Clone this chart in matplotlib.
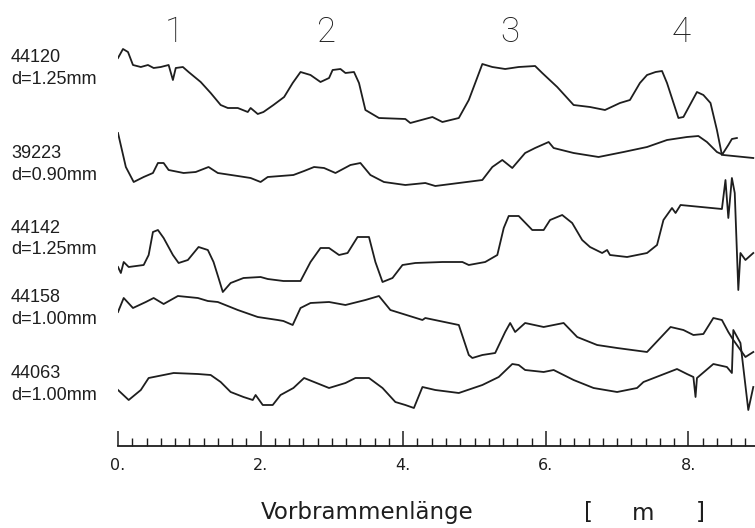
import matplotlib
matplotlib.use("Agg")
import matplotlib.pyplot as plt
from matplotlib.ticker import MultipleLocator, FixedLocator

# sample names and thickness, top to bottom
names = ['44120', '39223', '44142', '44158', '44063']
dicken = ['d=1.25mm', 'd=0.90mm', 'd=1.25mm', 'd=1.00mm', 'd=1.00mm']
zonen = ['1', '2', '3', '4']
zonen_x = [0.79, 2.93, 5.5, 7.9]

# signal traces, x in m, y in arbitrary units
x1 = [0.0, 0.07, 0.14, 0.21, 0.32, 0.42, 0.5, 0.6, 0.71, 0.77, 0.81, 0.91, 0.99, 1.16, 1.3, 1.44, 1.54,
      1.68, 1.82, 1.86, 1.96, 2.04, 2.18, 2.33, 2.45, 2.56, 2.7, 2.84, 2.96, 3.01, 3.12, 3.19, 3.31, 3.38,
      3.47, 3.66, 4.03, 4.1, 4.41, 4.55, 4.78, 4.92, 5.01, 5.11, 5.25, 5.43, 5.62, 5.85, 5.95, 6.16, 6.39,
      6.62, 6.83, 7.04, 7.18, 7.32, 7.42, 7.54, 7.63, 7.7, 7.86, 7.93, 8.12, 8.21, 8.31, 8.4, 8.47, 8.56,
      8.61, 8.68]
y1 = [32, 41, 38, 25, 23, 25, 22, 23, 25, 10, 22, 23, 18, 8, -3, -15, -18,
      -18, -22, -18, -24, -22, -15, -7, 7, 18, 15, 8, 12, 20, 21, 17, 18, 7,
      -20, -28, -29, -33, -27, -32, -28, -10, 7, 26, 23, 21, 23, 24, 17, 3, -15,
      -17, -20, -13, -10, 7, 15, 18, 19, 7, -28, -27, -2, -5, -13, -40, -65, -55,
      -49, -48]

x2 = [0.0, 0.11, 0.22, 0.36, 0.49, 0.56, 0.64, 0.71, 0.92, 1.09, 1.27, 1.4, 1.68, 1.86, 2.0, 2.1, 2.46,
      2.61, 2.75, 2.89, 3.05, 3.26, 3.4, 3.54, 3.73, 4.03, 4.31, 4.45, 4.78, 5.11, 5.25, 5.39, 5.53, 5.71,
      5.85, 6.04, 6.11, 6.39, 6.74, 7.09, 7.42, 7.7, 7.98, 8.14, 8.26, 8.4, 8.49, 8.63, 8.91]
y2 = [37, 3, -12, -7, -3, 7, 7, 0, -3, -2, 3, -3, -6, -8, -12, -7, -5,
      -1, 3, 2, -3, 5, 7, -5, -12, -15, -13, -16, -13, -10, 3, 10, 2, 17,
      22, 28, 22, 17, 13, 18, 23, 30, 33, 34, 28, 18, 15, 14, 12]

x3 = [0.0, 0.04, 0.08, 0.15, 0.36, 0.43, 0.49, 0.56, 0.64, 0.77, 0.85, 0.98, 1.13, 1.26, 1.34, 1.41, 1.47,
      1.58, 1.76, 2.0, 2.1, 2.32, 2.56, 2.7, 2.84, 2.96, 3.1, 3.22, 3.36, 3.52, 3.61, 3.71, 3.85, 3.99,
      4.17, 4.55, 4.83, 4.92, 5.15, 5.32, 5.41, 5.48, 5.62, 5.81, 5.97, 6.06, 6.23, 6.37, 6.51, 6.62, 6.79,
      6.86, 6.9, 7.14, 7.42, 7.56, 7.65, 7.77, 7.82, 7.89, 8.47, 8.52, 8.56, 8.61, 8.65, 8.7, 8.73, 8.8, 8.91]
y3 = [-7, -13, -2, -7, -5, 5, 28, 30, 22, 5, -3, 0, 13, 10, -2, -18, -32,
      -23, -18, -17, -19, -21, -21, -2, 12, 12, 5, 7, 23, 23, -2, -22, -18, -5,
      -3, -2, -2, -5, -2, 5, 32, 44, 44, 30, 30, 40, 45, 37, 20, 13, 7,
      10, 5, 3, 7, 15, 40, 52, 47, 55, 51, 80, 42, 82, 67, -30, 7, 0, 7]

x4 = [0.0, 0.08, 0.21, 0.39, 0.5, 0.64, 0.84, 1.12, 1.26, 1.4, 1.68, 1.96, 2.24, 2.32, 2.45, 2.56, 2.7,
      2.96, 3.19, 3.47, 3.66, 3.82, 4.27, 4.31, 4.78, 4.92, 4.97, 5.11, 5.29, 5.43, 5.5, 5.57, 5.71, 5.97,
      6.25, 6.44, 6.72, 7.0, 7.42, 7.75, 7.93, 8.07, 8.21, 8.35, 8.47, 8.56, 8.63, 8.73, 8.8, 8.91]
y4 = [8, 22, 12, 18, 22, 16, 24, 22, 19, 18, 10, 3, 0, -1, -5, 12, 17,
      18, 15, 20, 24, 10, 0, 2, -5, -35, -38, -35, -33, -12, -3, -12, -3, -7,
      -3, -17, -25, -28, -32, -7, -10, -15, -14, 2, 0, -12, -20, -30, -37, -32]

x5 = [0.0, 0.15, 0.32, 0.43, 0.64, 0.78, 1.12, 1.3, 1.44, 1.58, 1.76, 1.89, 1.93, 2.03, 2.17, 2.28, 2.46,
      2.61, 2.75, 2.96, 3.19, 3.33, 3.52, 3.71, 3.89, 4.03, 4.15, 4.27, 4.45, 4.78, 5.11, 5.34, 5.53, 5.62,
      5.71, 5.97, 6.11, 6.39, 6.67, 7.0, 7.28, 7.37, 7.84, 7.98, 8.07, 8.1, 8.12, 8.35, 8.54, 8.61, 8.63,
      8.73, 8.84, 8.91]
y5 = [0, -10, 0, 12, 15, 17, 16, 15, 8, -2, -7, -10, -5, -15, -15, -5, 2,
      12, 8, 2, 7, 12, 12, 2, -12, -15, -18, 3, 0, -3, 5, 13, 26, 25,
      20, 18, 20, 10, 2, -2, 2, 8, 21, 16, 13, -7, 12, 26, 23, 17, 60,
      47, -20, 3]

xs = [x1, x2, x3, x4, x5]
ys = [y1, y2, y3, y4, y5]
versatz = [356, 276, 186, 126, 56]   # vertical offset of each trace

W, H = 755, 528
fig = plt.figure(figsize=(W / 100, H / 100), dpi=100)
ax = fig.add_axes([118 / W, (H - 446) / H, (W - 118) / W, 446 / H])

for x, y, off in zip(xs, ys, versatz):
    ax.plot(x, [v + off for v in y], color='#1e1e1e', linewidth=1.3)

ax.set_xlim(0, (W - 118) / 71.3)
ax.set_ylim(0, 446)
for s in ['top', 'right', 'left']:
    ax.spines[s].set_visible(False)
ax.spines['bottom'].set_linewidth(1.3)
ax.spines['bottom'].set_color('#1e1e1e')
ax.set_yticks([])
ax.xaxis.set_major_locator(FixedLocator([0, 2, 4, 6, 8]))
ax.xaxis.set_minor_locator(MultipleLocator(0.2))
ax.set_xticklabels(['0.', '2.', '4.', '6.', '8.'])
ax.tick_params(axis='x', which='major', direction='in', length=11, width=1.1, color='#1e1e1e',
               pad=9, labelsize=11.5, labelcolor='#1e1e1e')
ax.tick_params(axis='x', which='minor', direction='in', length=5.5, width=1.0, color='#1e1e1e')
for lab in ax.get_xticklabels():
    lab.set_family('DejaVu Sans')

def px(x, y):
    return x / W, 1 - y / H

name_y = [57, 153, 228, 297, 373]
for n, d, yy in zip(names, dicken, name_y):
    fig.text(*px(11, yy), n, fontsize=13, family=['Liberation Sans', 'DejaVu Sans'],
             va='center', ha='left', color='#1e1e1e')
    fig.text(*px(11, yy + 22), d, fontsize=13, family=['Liberation Sans', 'DejaVu Sans'],
             va='center', ha='left', color='#1e1e1e')

for z, zx in zip(zonen, zonen_x):
    ax.text(zx, 446 - 32, z, fontsize=25, family=['Roboto', 'DejaVu Sans'],
            fontweight='light', ha='center', va='center', color='#1e1e1e')

fig.text(*px(367, 513), 'Vorbrammenlänge', fontsize=16.5, family='DejaVu Sans',
         ha='center', va='center', color='#1e1e1e')
fig.text(*px(588, 513), '[', fontsize=16.5, family='DejaVu Sans',
         ha='center', va='center', color='#1e1e1e')
fig.text(*px(643, 513), 'm', fontsize=16.5, family='DejaVu Sans',
         ha='center', va='center', color='#1e1e1e')
fig.text(*px(700, 513), ']', fontsize=16.5, family='DejaVu Sans',
         ha='center', va='center', color='#1e1e1e')

fig.savefig('out.png', dpi=100)
